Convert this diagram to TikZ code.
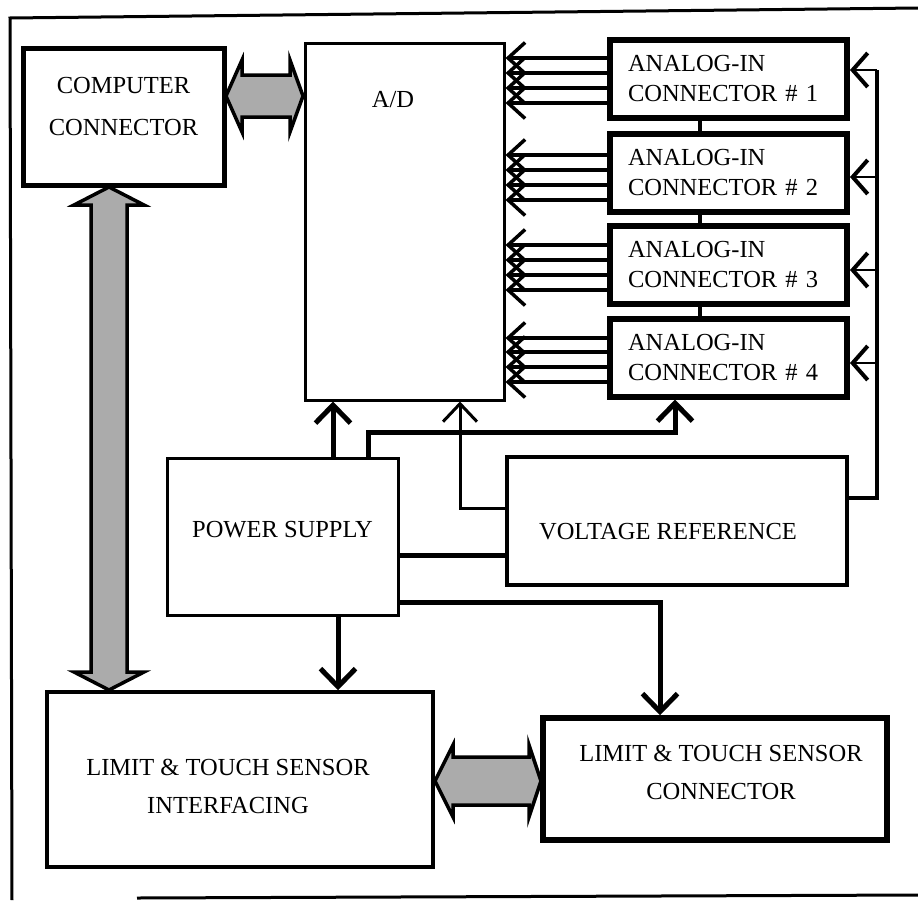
\documentclass[tikz,border=0pt]{standalone}
\usepackage{fontspec}
\setmainfont{Liberation Serif}
\usetikzlibrary{arrows.meta,calc}
\begin{document}
\begin{tikzpicture}[x=1pt,y=-1pt,
  every node/.style={font=\fontsize{24.5}{30}\selectfont},
  frame/.style={line width=3pt},
  blk/.style={draw, inner sep=0pt, line width=#1},
  ablk/.style={draw, line width=6pt, minimum width=237pt, minimum height=78pt,
    align=left, text width=201pt, inner xsep=18pt, inner ysep=0pt,
    font=\fontsize{24.5}{30}\selectfont},
  txt/.style={align=center, font=\fontsize{24.5}{#1}\selectfont},
  wire/.style={line width=5pt},
  awire/.style={line width=5pt, -{Straight Barb[length=18pt,width=35pt]}},
  tawire/.style={line width=3pt, -{Straight Barb[length=18pt,width=34pt]}},
  aline/.style={line width=3.5pt, -{Straight Barb[length=17pt,width=31pt]}},
  link/.style={line width=4pt},
  vline/.style={line width=3.5pt},
  branch/.style={line width=1.8pt, -{Straight Barb[length=15pt,width=34pt,line width=4pt]}},
  fat/.style={draw, line width=3.5pt, line join=miter, fill=black!33}
]
\useasboundingbox (0,0) rectangle (918,900);

% outer frame
\draw[frame] (918,8) -- (10,18) -- (12,900);
\draw[frame] (137,898) -- (918,895);

% boxes
\node[blk=5pt, minimum width=201pt, minimum height=137pt,
  label={[txt=42, yshift=10pt]center:COMPUTER\\CONNECTOR}] (comp) at (123.5,116.5) {};
\node[blk=3pt, minimum width=199pt, minimum height=357pt,
  label={[txt=30, xshift=-11.5pt, yshift=121.5pt]center:A/D}] (ad) at (404.5,221.5) {};
\node[ablk] (a1) at (728.5,79) {ANALOG-IN\\CONNECTOR \# 1};
\node[ablk] (a2) at (728.5,172.5) {ANALOG-IN\\CONNECTOR \# 2};
\node[ablk] (a3) at (728.5,265) {ANALOG-IN\\CONNECTOR \# 3};
\node[ablk] (a4) at (728.5,357.5) {ANALOG-IN\\CONNECTOR \# 4};
\node[blk=3pt, minimum width=231pt, minimum height=157pt,
  label={[txt=30, yshift=6.5pt]center:POWER SUPPLY}] (ps) at (282.5,536.5) {};
\node[blk=3.5pt, minimum width=340pt, minimum height=128pt,
  label={[txt=30, xshift=-9pt, yshift=-11pt]center:VOLTAGE REFERENCE}] (vr) at (677,521) {};
\node[blk=3.5pt, minimum width=386pt, minimum height=175pt,
  label={[txt=38, xshift=-12pt, yshift=-6.5pt]center:LIMIT \& TOUCH SENSOR\\INTERFACING}] (lti) at (240,779.5) {};
\node[blk=5.5pt, minimum width=344pt, minimum height=122pt,
  label={[txt=38, xshift=6pt, yshift=7pt]center:LIMIT \& TOUCH SENSOR\\CONNECTOR}] (ltc) at (715,779) {};

% shaded double arrows
\draw[fat] (226,96) -- (242,60) -- (242,75) -- (290,75) -- (290,60) -- (303,96)
  -- (290,132) -- (290,117) -- (242,117) -- (242,132) -- cycle;
\draw[fat] (109,187) -- (144,205) -- (127,205) -- (127,672) -- (144,672) -- (109,690)
  -- (74,672) -- (91,672) -- (91,205) -- (74,205) -- cycle;
\draw[fat] (435,781) -- (453,745) -- (453,757) -- (529,757) -- (529,745) -- (541,781)
  -- (529,817) -- (529,805) -- (453,805) -- (453,817) -- cycle;

% analog input lines into A/D
\foreach \y in {58,73,88,103} \draw[aline] (a1.west |- 0,\y) -- (ad.east |- 0,\y);
\foreach \y in {155,170,185,200} \draw[aline] (a2.west |- 0,\y) -- (ad.east |- 0,\y);
\foreach \y in {245,260,275,290} \draw[aline] (a3.west |- 0,\y) -- (ad.east |- 0,\y);
\foreach \y in {338,352,367,382} \draw[aline] (a4.west |- 0,\y) -- (ad.east |- 0,\y);

% links between analog connectors
\draw[link] (a1.south -| 700,0) -- (a2.north -| 700,0);
\draw[link] (a2.south -| 700,0) -- (a3.north -| 700,0);
\draw[link] (a3.south -| 700,0) -- (a4.north -| 700,0);

% voltage reference to analog connectors
\coordinate (rv) at (877,498);
\coordinate (rtop) at (877,70);
\draw[vline] (vr.east |- rv) -- (rv) -- (rtop);
\draw[branch] (rtop) -- (a1.east |- rtop);
\draw[branch] (877,177) -- (a2.east |- 0,177);
\draw[branch] (877,270) -- (a3.east |- 0,270);
\draw[branch] (877,363) -- (a4.east |- 0,363);

% power supply connections
\draw[awire] (ps.north -| 333,0) -- (ad.south -| 333,0);
\draw[awire] (ps.north -| 368,0) -- (368,432) -| (a4.south -| 675,0);
\draw[tawire] (vr.west |- 0,508) -| (ad.south -| 460,0);
\draw[wire] (ps.east |- 0,555) -- (vr.west |- 0,555);
\draw[awire] (ps.east |- 0,602) -| (ltc.north -| 660,0);
\draw[awire] (ps.south -| 338,0) -- (lti.north -| 338,0);
\end{tikzpicture}
\end{document}
